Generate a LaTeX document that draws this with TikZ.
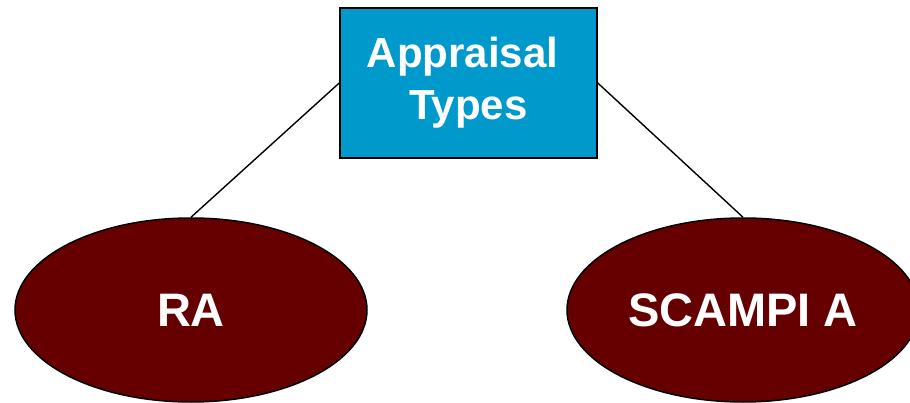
\documentclass[tikz,border=0pt]{standalone}
\usepackage{fontspec}
\setmainfont{Liberation Sans}
\usetikzlibrary{shapes.geometric}
\definecolor{boxblue}{HTML}{0099CC}
\definecolor{darkred}{HTML}{660000}
\tikzset{
  headbox/.style={draw=black, line width=1.5pt, fill=boxblue, text=white,
    minimum width=257, minimum height=150, inner sep=0pt, align=center,
    font=\bfseries\fontsize{42}{52}\selectfont},
  typeoval/.style={ellipse, draw=black, line width=1.5pt, fill=darkred, text=white,
    minimum width=352, minimum height=184, inner sep=0pt,
    font=\bfseries\fontsize{47}{56}\selectfont},
  link/.style={draw=black, line width=1.4pt}
}
\begin{document}
\begin{tikzpicture}[x=1pt,y=-1pt]
\useasboundingbox (0,0) rectangle (910,403);
\node[headbox] (types) at (468.5,83) {Appraisal\kern12pt\\Types};
\node[typeoval] (ra) at (191,310) {RA};
\node[typeoval] (scampi) at (743,310) {SCAMPI A};
\draw[link] (types.west) -- (ra.north);
\draw[link] (types.east) -- (scampi.north);
\end{tikzpicture}
\end{document}
